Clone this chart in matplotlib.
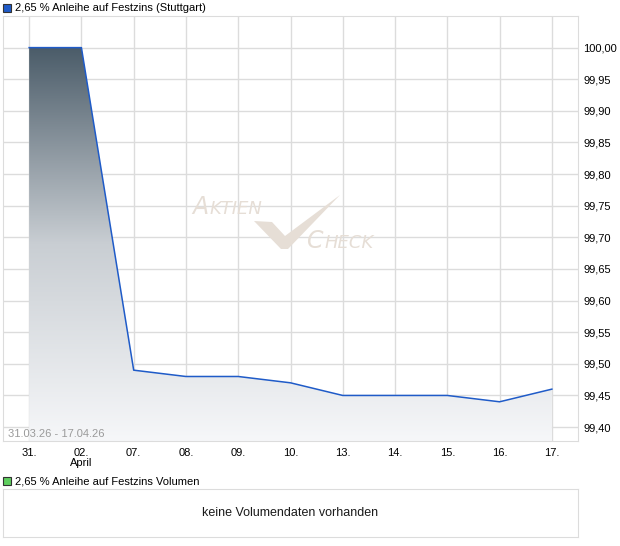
import numpy as np
import matplotlib.pyplot as plt
from matplotlib.patches import Rectangle, Polygon
from matplotlib.colors import LinearSegmentedColormap

plt.rcParams['font.family'] = ['Liberation Sans', 'DejaVu Sans']

# data
dates = ['31.', '02.', '07.', '08.', '09.', '10.', '13.', '14.', '15.', '16.', '17.']
prices = [100.00, 100.00, 99.49, 99.48, 99.48, 99.47, 99.45, 99.45, 99.45, 99.44, 99.46]
yticks = [100.00, 99.95, 99.90, 99.85, 99.80, 99.75, 99.70, 99.65, 99.60, 99.55, 99.50, 99.45, 99.40]
title = '2,65 % Anleihe auf Festzins (Stuttgart)'
vol_title = '2,65 % Anleihe auf Festzins Volumen'
range_txt = '31.03.26 - 17.04.26'

W, H = 620, 546
fig = plt.figure(figsize=(W / 100, H / 100), dpi=100)

def box(x0, y0, x1, y1):
    return [x0 / W, 1 - y1 / H, (x1 - x0) / W, (y1 - y0) / H]

grid_c = '#dcdcdc'
ymin, ymax = 99.378, 100.05

ax = fig.add_axes(box(3, 16, 578, 441))
x = np.arange(len(dates))

for xi in x:
    ax.axvline(xi, color=grid_c, lw=1, zorder=0)
for yv in yticks:
    ax.axhline(yv, color=grid_c, lw=1, zorder=0)

# gradient fill under the line
cmap = LinearSegmentedColormap.from_list('g', ['#f6f7f9', '#c9ced3', '#4b5c69'])
grad = np.linspace(ymin, 100.0, 256).reshape(-1, 1)
img = ax.imshow(grad, extent=[x[0], x[-1], ymin, 100.0], origin='lower',
                aspect='auto', cmap=cmap, zorder=1)
clip = Polygon(np.vstack([np.column_stack([x, prices]), [[x[-1], ymin], [x[0], ymin]]]),
               closed=True, transform=ax.transData, facecolor='none', edgecolor='none')
ax.add_patch(clip)
img.set_clip_path(clip)
ax.set_xlim(-0.5, len(dates) - 0.5)
ax.set_ylim(ymin, ymax)

ax.plot(x, prices, color='#1f5bc8', lw=1.1, zorder=3)

ax.set_xticks(x)
ax.set_xticklabels(dates, fontsize=8)
ax.tick_params(axis='x', length=0, pad=5)
ax.yaxis.tick_right()
ax.set_yticks(yticks)
ax.set_yticklabels([f'{v:.2f}'.replace('.', ',') for v in yticks], fontsize=8)
ax.tick_params(axis='y', length=0, pad=4)
for s in ax.spines.values():
    s.set_color(grid_c)
ax.text(1, -0.052, 'April', transform=ax.get_xaxis_transform(), ha='center', va='center', fontsize=8)
ax.text(0.009, 0.005, range_txt, transform=ax.transAxes, fontsize=8, color='#9a9a9a',
        ha='left', va='bottom', zorder=4)

# watermark
wm = '#e6ded6'
wf = ['DejaVu Sans']
fig.text(192 / W, 1 - 214 / H, 'A', fontsize=17, style='italic', color=wm, family=wf)
fig.text(210 / W, 1 - 214 / H, 'KTIEN', fontsize=13, style='italic', color=wm, family=wf)
fig.text(307 / W, 1 - 248 / H, 'C', fontsize=17, style='italic', color=wm, family=wf)
fig.text(325 / W, 1 - 248 / H, 'HECK', fontsize=13, style='italic', color=wm, family=wf)
chk = [(254, 221), (272, 222), (285, 236), (340, 195), (288, 249), (281, 249)]
fig.patches.append(Polygon([(px / W, 1 - py / H) for px, py in chk], closed=True,
                           transform=fig.transFigure, facecolor=wm, edgecolor='none'))

# legends
fig.patches.append(Rectangle((3 / W, 1 - 12 / H), 8 / W, 8 / H, transform=fig.transFigure,
                             facecolor='#1f5bc8', edgecolor='#333333', lw=0.8))
fig.text(15 / W, 1 - 8 / H, title, fontsize=8, va='center')
fig.patches.append(Rectangle((3 / W, 1 - 485 / H), 8 / W, 8 / H, transform=fig.transFigure,
                             facecolor='#5fcf5f', edgecolor='#333333', lw=0.8))
fig.text(15 / W, 1 - 481 / H, vol_title, fontsize=8, va='center')

# volume panel
ax2 = fig.add_axes(box(3, 489, 578, 537))
ax2.set_xticks([])
ax2.set_yticks([])
for s in ax2.spines.values():
    s.set_color(grid_c)
ax2.text(0.5, 0.5, 'keine Volumendaten vorhanden', transform=ax2.transAxes,
         ha='center', va='center', fontsize=9, color='#1a1a1a')

fig.savefig('out.png', dpi=100)
